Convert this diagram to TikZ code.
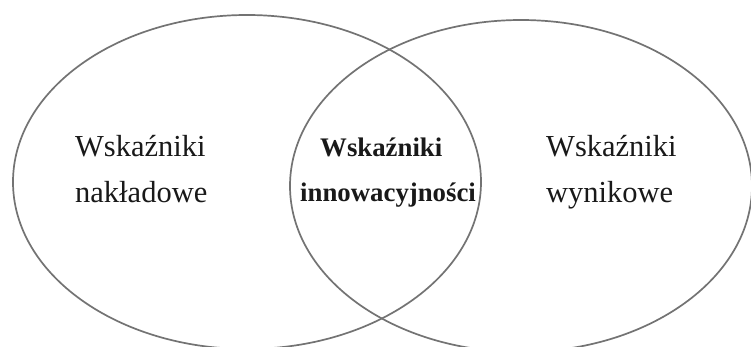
\documentclass[tikz,border=0pt]{standalone}
\usepackage{fontspec}
\setmainfont{Liberation Serif}
\definecolor{ringgray}{RGB}{115,115,115}
\definecolor{textdark}{RGB}{25,25,25}
\begin{document}
\begin{tikzpicture}[x=1pt,y=-1pt,
  ring/.style={draw=ringgray,line width=1.7pt},
  plain/.style={anchor=base west,inner sep=0pt,text=textdark,font=\fontsize{30.5}{36}\selectfont},
  strong/.style={anchor=base west,inner sep=0pt,text=textdark,font=\fontsize{26.8}{32}\selectfont\bfseries}]
\useasboundingbox (0,0) rectangle (751,347);
\fill[white] (0,0) rectangle (751,347);
\draw[ring] (247,182) ellipse [x radius=234, y radius=167];
\draw[ring] (521,186) ellipse [x radius=231, y radius=166];
\node[plain] (l1) at (75,157) {Wskaźniki};
\node[plain] (l2) at (75,203) {nakładowe};
\node[strong] (m1) at (320,157) {Wskaźniki};
\node[strong] (m2) at (300,202) {innowacyjności};
\node[plain] (r1) at (546,157) {Wskaźniki};
\node[plain] (r2) at (546,203) {wynikowe};
\end{tikzpicture}
\end{document}
